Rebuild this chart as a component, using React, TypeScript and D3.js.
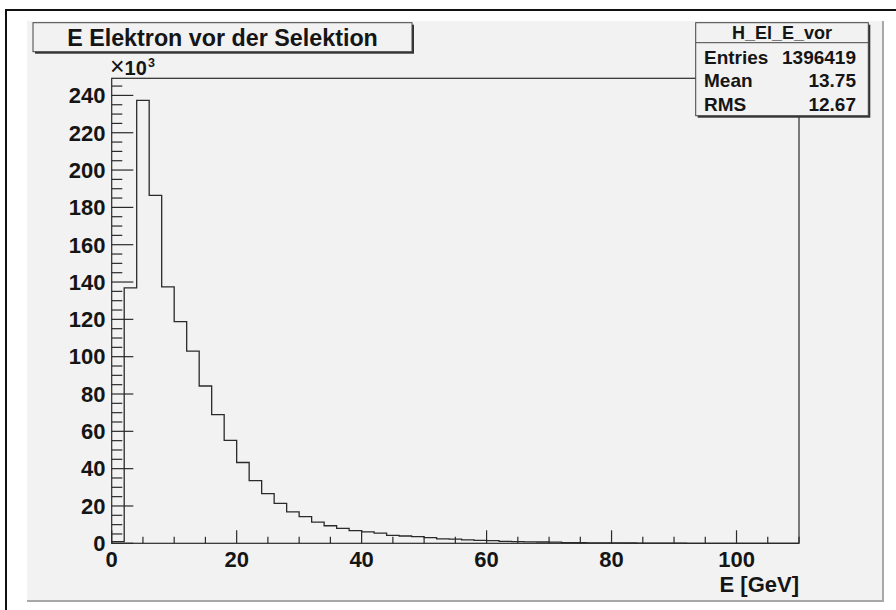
import React from 'react'
import * as d3 from 'd3'

const width = 896
const height = 610

// histogram: 2 GeV bins from 0 to 110, counts in thousands
const binWidth = 2
const counts = [
  0.9, 136.9, 237.3, 186.4, 137.4, 118.8, 103.0, 84.3, 69.0, 55.2,
  43.3, 33.6, 26.6, 21.4, 16.8, 14.3, 11.4, 9.4, 8.0, 6.8,
  6.1, 5.4, 4.3, 3.9, 3.6, 3.0, 2.4, 2.2, 1.8, 1.6,
  1.4, 1.0, 0.9, 0.8, 0.7, 0.6, 0.35, 0.3, 0.25, 0.2,
  0.2, 0.15, 0.12, 0.1, 0.08, 0.05, 0, 0, 0, 0,
  0, 0, 0, 0, 0
]
const xTicks = [0, 20, 40, 60, 80, 100]
const yTicks = [0, 20, 40, 60, 80, 100, 120, 140, 160, 180, 200, 220, 240]

const title = 'E Elektron vor der Selektion'
const xTitle = 'E [GeV]'
const statsName = 'H_El_E_vor'
const statsRows = [
  ['Entries', '1396419'],
  ['Mean', '13.75'],
  ['RMS', '12.67']
]

const frame = { left: 111.7, right: 799, top: 78.3, bottom: 543.3 }
const font = '"Liberation Sans", Arial, Helvetica, sans-serif'
const ink = '#151515'
const line = '#2a2a2a'

const App = () => {
  const yMax = d3.max(counts) * 1.05
  const x = d3.scaleLinear().domain([0, 110]).range([frame.left, frame.right])
  const y = d3.scaleLinear().domain([0, yMax]).range([frame.bottom, frame.top])

  const pts: [number, number][] = [[0, 0]]
  counts.forEach((c, i) => {
    pts.push([i * binWidth, c])
    pts.push([(i + 1) * binWidth, c])
  })
  const path = d3.line<[number, number]>().x(d => x(d[0])).y(d => y(d[1]))(pts)

  const xMinor = d3.range(0, 110.01, 5)
  const yMinor = d3.range(0, 245.01, 5)

  const sx0 = 695.7, sx1 = 868.3, sy0 = 22.7, sy1 = 115.7, sHead = 42.7

  return (
    <svg width={width} height={height} style={{ position: 'absolute', left: 0, top: 0 }} fontFamily={font}>
      <rect x={0} y={0} width={width} height={height} fill="#ffffff" />
      {/* window border */}
      <line x1={5} x2={896} y1={10} y2={10} stroke="#111" strokeWidth={2} />
      <line x1={6} x2={6} y1={10} y2={610} stroke="#111" strokeWidth={2} />
      {/* canvas */}
      <rect x={27} y={21} width={855} height={579} fill="#f2f2f2" />
      <line x1={883} x2={883} y1={21} y2={602} stroke="#a8a8a8" strokeWidth={2} />
      <line x1={27} x2={884} y1={601} y2={601} stroke="#a8a8a8" strokeWidth={2} />

      {/* frame */}
      <rect x={frame.left} y={frame.top} width={frame.right - frame.left} height={frame.bottom - frame.top}
        fill="none" stroke={line} strokeWidth={1.2} />

      {/* histogram */}
      <path d={path ?? ''} fill="none" stroke={line} strokeWidth={1.3} />

      {/* y axis */}
      {yMinor.map(v => (
        <line key={'ym' + v} x1={frame.left} x2={frame.left + (v % 20 === 0 ? 21.6 : 10.6)}
          y1={y(v)} y2={y(v)} stroke={line} strokeWidth={1.2} />
      ))}
      {yTicks.map(v => (
        <text key={'yl' + v} x={105.5} y={y(v) + 7.8} textAnchor="end" fontSize={22} fontWeight="bold" fill={ink}>{v}</text>
      ))}
      <text x={110} y={75} fontSize={20} fontWeight="bold" fill={ink}>
        <tspan fontSize={25} fontWeight="normal">×</tspan>10
      </text>
      <text x={148} y={66.5} fontSize={12.5} fontWeight="bold" fill={ink}>3</text>

      {/* x axis */}
      {xMinor.map(v => (
        <line key={'xm' + v} x1={x(v)} x2={x(v)} y1={frame.bottom}
          y2={frame.bottom - (v % 20 === 0 ? 13 : 6.5)} stroke={line} strokeWidth={1.2} />
      ))}
      {xTicks.map(v => (
        <text key={'xl' + v} x={x(v)} y={566.5} textAnchor="middle" fontSize={22} fontWeight="bold" fill={ink}>{v}</text>
      ))}
      <text x={frame.right} y={592} textAnchor="end" fontSize={22} fontWeight="bold" fill={ink}>{xTitle}</text>

      {/* title box */}
      <rect x={35} y={24.7} width={379} height={29} fill="#333" />
      <rect x={33} y={22.7} width={379} height={29} fill="#f2f2f2" stroke="#444" strokeWidth={1} />
      <text x={222.5} y={45.5} textAnchor="middle" fontSize={23.3} fontWeight="bold" fill={ink}>{title}</text>

      {/* stats box */}
      <rect x={sx0 + 2} y={sy0 + 2} width={sx1 - sx0} height={sy1 - sy0} fill="#333" />
      <rect x={sx0} y={sy0} width={sx1 - sx0} height={sy1 - sy0} fill="#f2f2f2" stroke="#444" strokeWidth={1} />
      <line x1={sx0} x2={sx1} y1={sHead} y2={sHead} stroke="#444" strokeWidth={1} />
      <text x={(sx0 + sx1) / 2} y={39.3} textAnchor="middle" fontSize={18} fontWeight="bold" fill={ink}>{statsName}</text>
      {statsRows.map((r, i) => (
        <g key={r[0]}>
          <text x={704} y={64 + i * 23.3} fontSize={19} fontWeight="bold" fill={ink}>{r[0]}</text>
          <text x={856} y={64 + i * 23.3} textAnchor="end" fontSize={19} fontWeight="bold" fill={ink}>{r[1]}</text>
        </g>
      ))}
    </svg>
  )
}

export default App
